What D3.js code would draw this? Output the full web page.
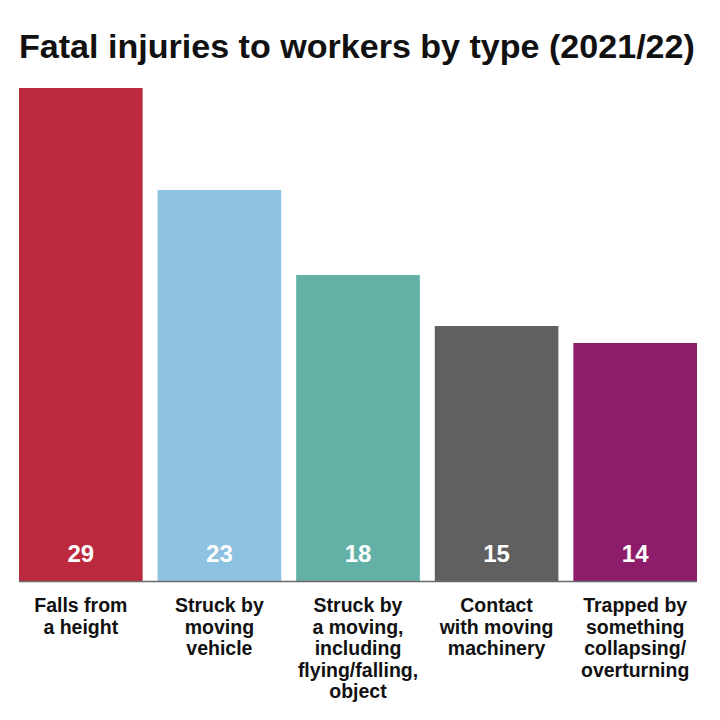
<!DOCTYPE html>
<html>
<head>
<meta charset="utf-8">
<script src="https://cdn.jsdelivr.net/npm/d3@7"></script>
<style>
  body { margin: 0; background: #fff; }
  svg { display: block; font-family: "Liberation Sans", Arial, Helvetica, sans-serif; }
</style>
</head>
<body>
<svg id="chart"></svg>
<script>
const width = 720;
const height = 720;

const categories = [
    ["Falls from", "a height"],
    ["Struck by", "moving", "vehicle"],
    ["Struck by", "a moving,", "including", "flying/falling,", "object"],
    ["Contact", "with moving", "machinery"],
    ["Trapped by", "something", "collapsing/", "overturning"]
];
const values = [29, 23, 18, 15, 14];
const colors = ['#BC283D', '#8DC2E0', '#63B0A7', '#606060', '#8D1C6B'];

const svg = d3.select('#chart')
    .attr('width', width)
    .attr('height', height);

const x = d3.scaleBand()
    .domain(d3.range(values.length))
    .range([19, 697])
    .paddingInner(0.108);

const y = d3.scaleLinear()
    .domain([0, 29])
    .range([581, 88]);

// title
const title = svg.append('text')
    .attr('x', 19)
    .attr('y', 58)
    .style('font-size', '28px')
    .style('font-weight', 'bold')
    .style('fill', '#111')
    .text('Fatal injuries to workers by type (2021/22)');
// stretch to the same width as the bars
const tw = title.node().getComputedTextLength();
title.style('font-size', (28 * 676 / tw) + 'px');

const bar = svg.selectAll('g.bar')
    .data(values)
    .enter().append('g')
    .attr('class', 'bar');

bar.append('rect')
    .attr('x', (d, i) => x(i))
    .attr('y', d => y(d))
    .attr('width', x.bandwidth())
    .attr('height', d => y(0) - y(d))
    .style('fill', (d, i) => colors[i]);

bar.append('text')
    .attr('x', (d, i) => x(i) + x.bandwidth() / 2)
    .attr('y', y(0) - 19)
    .attr('text-anchor', 'middle')
    .style('font-size', '24px')
    .style('font-weight', 'bold')
    .style('fill', '#fff')
    .text(d => d);

// baseline
svg.append('line')
    .attr('x1', 19)
    .attr('x2', 697)
    .attr('y1', y(0) + 0.5)
    .attr('y2', y(0) + 0.5)
    .style('stroke', '#6a6a6a')
    .style('stroke-width', 1.5);

// category labels
const label = svg.selectAll('text.cat')
    .data(categories)
    .enter().append('text')
    .attr('class', 'cat')
    .attr('text-anchor', 'middle')
    .style('font-size', '19.5px')
    .style('font-weight', 'bold')
    .style('fill', '#111');

label.selectAll('tspan')
    .data((d, i) => d.map(t => ({ t, i })))
    .enter().append('tspan')
    .attr('x', d => x(d.i) + x.bandwidth() / 2)
    .attr('y', (d, j) => 612 + j * 21.6)
    .text(d => d.t);
</script>
</body>
</html>
